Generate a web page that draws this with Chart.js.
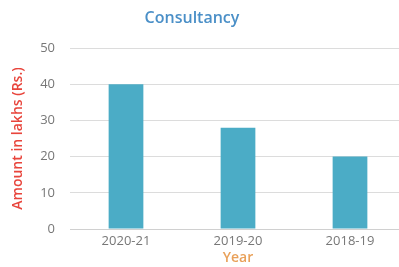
<!DOCTYPE html>
<html>
<head>
<meta charset="utf-8">
<script src="https://cdn.jsdelivr.net/npm/chart.js@4.4.1/dist/chart.umd.min.js"></script>
<style>
  html, body { margin: 0; padding: 0; background: #fff; overflow: hidden; }
  #wrap { position: relative; width: 399px; height: 267px; overflow: hidden; }
  #title { position: absolute; left: 0; top: 6px; width: 384px; text-align: center;
           font-family: "Open Sans", sans-serif; font-size: 16px; font-weight: 600; color: #4a8fc7; }
  canvas { position: absolute; left: 0; top: 0; }
</style>
</head>
<body>
<div id="wrap">
  <canvas id="c" width="406" height="267"></canvas>
  <div id="title">Consultancy</div>
</div>
<script>
const categories = ['2020-21', '2019-20', '2018-19'];
const amounts = [40, 28, 20];
const yTicks = [0, 10, 20, 30, 40, 50];

const FONT = '"Open Sans", sans-serif';
new Chart(document.getElementById('c'), {
  type: 'bar',
  data: {
    labels: categories,
    datasets: [{
      data: amounts,
      backgroundColor: '#4bacc6',
      borderWidth: 0,
      categoryPercentage: 1,
      barPercentage: 0.31
    }]
  },
  options: {
    responsive: false,
    animation: false,
    layout: { padding: { top: 48, left: 0, right: 0, bottom: 0 } },
    plugins: { legend: { display: false }, title: { display: false }, tooltip: { enabled: false } },
    scales: {
      x: {
        grid: { display: false, drawTicks: false },
        border: { display: true, color: '#d0d0d0', width: 1 },
        ticks: { color: '#777777', font: { family: FONT, size: 13 }, padding: 4, maxRotation: 0 },
        title: { display: true, text: 'Year', color: '#e9a15a', font: { family: FONT, size: 14, weight: 600 }, padding: { top: 0, bottom: 1 } },
        afterFit: s => { s.height = 38; }
      },
      y: {
        min: 0, max: 50,
        afterBuildTicks: s => { s.ticks = yTicks.map(v => ({ value: v })); },
        grid: { color: '#dcdcdc', drawTicks: false },
        border: { display: false },
        ticks: { color: '#777777', font: { family: FONT, size: 13 }, padding: 15 },
        title: { display: true, text: 'Amount in lakhs (Rs.)', color: '#e8453c', font: { family: FONT, size: 14, weight: 600 }, padding: { top: 10, bottom: 0 } },
        afterFit: s => { s.width = 70; }
      }
    }
  }
});
</script>
</body>
</html>
